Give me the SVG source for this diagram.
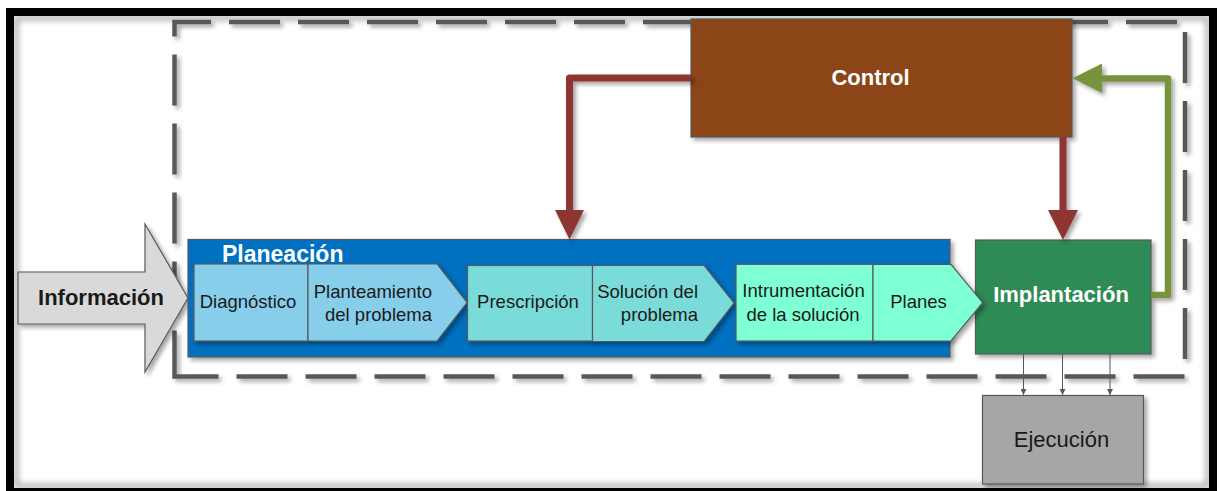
<svg xmlns="http://www.w3.org/2000/svg" width="1219" height="491" viewBox="0 0 1219 491">
<defs>
<style>
text{font-family:"Liberation Sans",Arial,sans-serif;}
.stage{font-size:18.5px;fill:#1a1a1a;}
.big{font-size:22px;font-weight:bold;}
.box{stroke:#595959;stroke-width:1.2;}
.red{fill:none;stroke:#8E3532;stroke-width:7;stroke-linejoin:round;}
.green{fill:none;stroke:#77933C;stroke-width:6.5;stroke-linejoin:round;}
.thin{stroke:#595959;stroke-width:1;fill:none;}
</style>
<filter id="sh" x="-10%" y="-10%" width="130%" height="140%">
<feDropShadow dx="3" dy="3" stdDeviation="2" flood-color="#000" flood-opacity="0.35"/>
</filter>
<filter id="inner" x="-5%" y="-5%" width="110%" height="110%">
<feGaussianBlur stdDeviation="3"/>
</filter>
<marker id="sm" viewBox="0 0 6 6" refX="6" refY="3" markerWidth="6" markerHeight="6" orient="auto" markerUnits="userSpaceOnUse">
<path d="M0,0 L6,3 L0,6 Z" fill="#595959"/>
</marker>
</defs>
<rect x="0" y="0" width="1219" height="491" fill="#fff"/>
<rect x="16" y="18" width="1192" height="468" fill="none" stroke="#9a9a9a" stroke-width="4" filter="url(#inner)"/>
<path d="M174.5,376.5 V22 H1185 V376.5 Z" fill="none" stroke="#595959" stroke-width="4.5" stroke-dasharray="51 18" stroke-dashoffset="5" filter="url(#sh)"/>

<g id="informacion">
<polygon points="18,272 145,272 145,224 188,298 145,372 145,324 18,324" fill="#D9D9D9" stroke="#595959" stroke-width="1.2" filter="url(#sh)"/>
<text x="101" y="305" class="big" fill="#1a1a1a" text-anchor="middle">Información</text>
</g>

<g id="planeacion">
<rect x="188" y="239.5" width="762" height="117.5" fill="#0070C0" class="box" filter="url(#sh)"/>
<text x="222" y="262" class="big" font-size="23" style="font-size:23px" fill="#fff">Planeación</text>
</g>

<g id="diagnostico">
<rect x="194" y="264" width="114" height="77" fill="#87CEEB" class="box" filter="url(#sh)"/>
<text x="248" y="308" class="stage" text-anchor="middle">Diagnóstico</text>
</g>
<g id="planteamiento">
<polygon points="308,264 437,264 467,302.5 437,341 308,341" fill="#87CEEB" class="box" filter="url(#sh)"/>
<text x="432" y="298" class="stage" text-anchor="end">Planteamiento</text>
<text x="432" y="320.5" class="stage" text-anchor="end">del problema</text>
</g>
<g id="prescripcion">
<rect x="467.5" y="265.5" width="125" height="75.5" fill="#7ADCD8" class="box" filter="url(#sh)"/>
<text x="528" y="308" class="stage" text-anchor="middle">Prescripción</text>
</g>
<g id="solucion">
<polygon points="592.5,265.5 704,265.5 734,303 704,341.5 592.5,341.5" fill="#7ADCD8" class="box" filter="url(#sh)"/>
<text x="698" y="298" class="stage" text-anchor="end">Solución del</text>
<text x="698" y="320.5" class="stage" text-anchor="end">problema</text>
</g>
<g id="intrumentacion">
<rect x="736" y="264.3" width="137" height="76.7" fill="#7FFFD4" class="box" filter="url(#sh)"/>
<text x="803.5" y="297" class="stage" text-anchor="middle">Intrumentación</text>
<text x="803" y="320.5" class="stage" text-anchor="middle">de la solución</text>
</g>

<g id="implantacion">
<rect x="975.5" y="240" width="175.5" height="114" fill="#2E8B57" class="box" filter="url(#sh)"/>
<text x="1061" y="301.5" class="big" fill="#fff" text-anchor="middle">Implantación</text>
</g>
<g id="planes">
<polygon points="873,264.3 951,264.3 982.7,302.7 951,341 873,341" fill="#7FFFD4" class="box" filter="url(#sh)"/>
<text x="918.5" y="308" class="stage" text-anchor="middle">Planes</text>
</g>

<g id="control">
<rect x="691" y="19" width="381" height="118" fill="#8B4513" class="box" filter="url(#sh)"/>
<text x="870.5" y="85" class="big" fill="#fff" text-anchor="middle">Control</text>
</g>

<g id="ejecucion">
<rect x="982.5" y="395.5" width="161" height="88.5" fill="#A6A6A6" class="box" filter="url(#sh)"/>
<text x="1061.5" y="446.5" font-size="22" fill="#1a1a1a" text-anchor="middle">Ejecución</text>
</g>

<g id="connectors">
<g filter="url(#sh)">
<path class="red" d="M691,78 H569.5 V212"/>
<polygon points="555,210 584,210 569.5,239.5" fill="#8E3532"/>
<path class="red" d="M1063,137 V212"/>
<polygon points="1048,210 1078,210 1063,240" fill="#8E3532"/>
<path class="green" d="M1151,295 H1168 V78.5 H1100"/>
<polygon points="1102,63.5 1102,93 1072.5,78.3" fill="#77933C"/>
</g>
<line class="thin" x1="1023.5" y1="354" x2="1023.5" y2="395" marker-end="url(#sm)"/>
<line class="thin" x1="1062.5" y1="354" x2="1062.5" y2="395" marker-end="url(#sm)"/>
<line class="thin" x1="1110" y1="354" x2="1110" y2="395" marker-end="url(#sm)"/>
</g>

<rect x="10" y="12" width="1203" height="480" fill="none" stroke="#000" stroke-width="8"/>
</svg>
